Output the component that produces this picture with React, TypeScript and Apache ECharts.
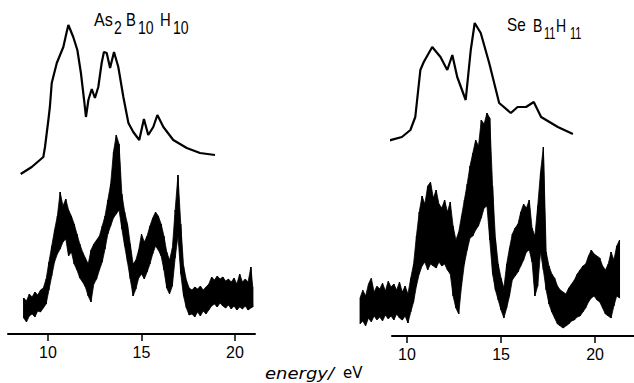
import React, { useEffect, useRef } from "react";
import * as echarts from "echarts";

// ---------- As2B10H10 (left panel) ----------
// upper (photoelectron) spectrum: energy (eV) and intensity (a.u.)
const asTopEnergy = [8.54, 9.13, 9.75, 9.84, 10.02, 10.1, 10.2, 10.47, 10.82, 11.0, 11.09, 11.35, 11.57, 11.76, 11.93, 12.03, 12.16, 12.34, 12.51, 12.69, 12.87, 12.99, 13.14, 13.32, 13.53, 13.76, 14.03, 14.3, 14.56, 14.88, 15.13, 15.36, 15.63, 15.85, 16.17, 16.7, 17.42, 18.13, 18.93];
const asTopIntensity = [160, 167, 177, 187, 214, 227, 251, 271, 287, 302, 309, 297, 284, 261, 234, 217, 234, 245, 236, 247, 271, 282, 281, 266, 282, 267, 237, 211, 202, 194, 215, 199, 207, 219, 207, 194, 186, 181, 179];

// lower (noisy) spectrum: energy, lower and upper edge of the noise band (a.u.)
const asLowEnergy = [8.70, 8.85, 9.00, 9.15, 9.30, 9.45, 9.60, 9.75, 9.90, 10.05, 10.20, 10.35, 10.50, 10.65, 10.80, 10.95, 11.10, 11.25, 11.40, 11.55, 11.70, 11.85, 12.00, 12.15, 12.30, 12.45, 12.60, 12.75, 12.90, 13.05, 13.20, 13.35, 13.50, 13.65, 13.80, 13.95, 14.10, 14.25, 14.40, 14.55, 14.70, 14.85, 15.00, 15.15, 15.30, 15.45, 15.60, 15.75, 15.90, 16.05, 16.20, 16.35, 16.50, 16.65, 16.80, 16.95, 17.10, 17.25, 17.40, 17.55, 17.70, 17.85, 18.00, 18.15, 18.30, 18.45, 18.60, 18.75, 18.90, 19.05, 19.20, 19.35, 19.50, 19.65, 19.80, 19.95, 20.10, 20.25, 20.40, 20.55, 20.70, 20.85, 20.95];
const asLowMin = [16, 12, 18, 20, 17, 23, 22, 26, 30, 44, 58, 72, 80, 85, 92, 95, 78, 82, 70, 64, 56, 52, 47, 38, 32, 50, 55, 64, 72, 85, 100, 108, 116, 120, 124, 105, 88, 72, 55, 38, 45, 56, 60, 55, 62, 70, 80, 88, 84, 78, 64, 46, 40, 48, 76, 98, 60, 38, 26, 19, 20, 17, 22, 18, 23, 20, 24, 28, 30, 27, 31, 28, 26, 29, 25, 28, 24, 27, 25, 28, 24, 26, 27];
const asLowMax = [36, 33, 40, 37, 42, 39, 44, 46, 55, 72, 88, 104, 118, 142, 128, 135, 124, 118, 110, 100, 90, 82, 76, 70, 84, 90, 94, 98, 108, 118, 134, 150, 182, 199, 190, 140, 122, 110, 90, 70, 74, 84, 100, 92, 98, 108, 116, 122, 118, 110, 98, 82, 74, 86, 124, 159, 110, 68, 54, 46, 44, 47, 45, 48, 44, 47, 50, 57, 54, 58, 55, 57, 53, 55, 52, 56, 50, 60, 52, 55, 52, 67, 47];

// ---------- SeB11H11 (right panel) ----------
const seTopEnergy = [7.42, 8.75, 9.73, 10.18, 10.44, 10.71, 10.89, 11.34, 11.78, 12.14, 12.41, 12.67, 13.12, 13.39, 13.6, 13.92, 14.37, 14.9, 15.52, 15.88, 16.33, 16.74, 17.13, 18.02, 18.82];
const seTopIntensity = [192, 194, 199, 206, 219, 266, 274, 289, 279, 266, 281, 259, 236, 286, 313, 303, 273, 233, 223, 229, 229, 234, 219, 209, 202];

const seLowEnergy = [7.50, 7.65, 7.80, 7.95, 8.10, 8.25, 8.40, 8.55, 8.70, 8.85, 9.00, 9.15, 9.30, 9.45, 9.60, 9.75, 9.90, 10.05, 10.20, 10.35, 10.50, 10.65, 10.80, 10.95, 11.10, 11.25, 11.40, 11.55, 11.70, 11.85, 12.00, 12.15, 12.30, 12.45, 12.60, 12.75, 12.90, 13.05, 13.20, 13.35, 13.50, 13.65, 13.80, 13.95, 14.10, 14.25, 14.40, 14.55, 14.70, 14.85, 15.00, 15.15, 15.30, 15.45, 15.60, 15.75, 15.90, 16.05, 16.20, 16.35, 16.50, 16.65, 16.80, 16.95, 17.10, 17.25, 17.40, 17.55, 17.70, 17.85, 18.00, 18.15, 18.30, 18.45, 18.60, 18.75, 18.90, 19.05, 19.20, 19.35, 19.50, 19.65, 19.80, 19.95, 20.10, 20.25, 20.40, 20.55, 20.70, 20.85, 21.00, 21.15, 21.30];
const seLowMin = [12, 15, 10, 18, 14, 20, 16, 19, 15, 21, 17, 20, 16, 22, 18, 16, 20, 13, 24, 34, 50, 62, 70, 74, 66, 72, 70, 68, 74, 70, 72, 66, 62, 40, 28, 22, 50, 72, 86, 98, 100, 106, 110, 118, 128, 130, 96, 62, 46, 36, 26, 18, 28, 40, 56, 60, 64, 70, 76, 84, 86, 74, 40, 50, 84, 66, 46, 32, 24, 18, 12, 10, 8, 10, 12, 15, 16, 19, 20, 24, 28, 34, 38, 40, 36, 34, 28, 22, 20, 18, 30, 40, 38];
const seLowMax = [38, 46, 40, 52, 58, 44, 50, 47, 53, 45, 55, 49, 52, 46, 54, 44, 50, 42, 58, 72, 100, 124, 140, 132, 150, 154, 138, 146, 132, 128, 136, 124, 134, 110, 96, 104, 120, 136, 152, 170, 183, 196, 190, 216, 212, 223, 218, 150, 98, 72, 58, 48, 72, 88, 102, 108, 112, 124, 132, 128, 136, 108, 100, 130, 164, 189, 84, 70, 62, 58, 50, 46, 44, 42, 48, 52, 56, 62, 66, 70, 72, 80, 86, 82, 80, 78, 70, 66, 72, 84, 76, 90, 96];

// ---------- axes ----------
const majorTicks = [10, 15, 20];
const leftMinorTicks = [8, 9, 11, 12, 13, 14, 16, 17, 18, 19, 21];
const rightMinorTicks = [11, 12, 13, 14, 16, 17, 18, 19, 21, 22];

const pairs = (xs: number[], ys: number[]) => xs.map((x, i) => [x, ys[i]]);
// noisy trace drawn as a zig-zag between the band edges at each reading
const zigzag = (xs: number[], lo: number[], hi: number[]) => {
  const out: number[][] = [];
  xs.forEach((x, i) => {
    out.push([x, lo[i]]);
    out.push([x, hi[i]]);
  });
  return out;
};

export default function App() {
  const ref = useRef<HTMLDivElement>(null);
  useEffect(() => {
    document.body.style.margin = "0";
    if (!ref.current) return;
    const chart = echarts.init(ref.current, undefined, { renderer: "svg" });
    const font = "Liberation Sans";
    const mkX = (grid: number, min: number, max: number, minor: number[]) => [
      {
        type: "value",
        gridIndex: grid,
        min,
        max,
        axisLine: { show: true, onZero: false, lineStyle: { color: "#000", width: 2 } },
        axisTick: { show: true, customValues: majorTicks, length: 7, lineStyle: { color: "#000", width: 1.5 } },
        axisLabel: { show: true, customValues: majorTicks, color: "#000", fontSize: 16, margin: 10, fontFamily: font },
        splitLine: { show: false },
      },
      {
        type: "value",
        gridIndex: grid,
        min,
        max,
        axisLine: { show: false, onZero: false },
        axisTick: { show: true, customValues: minor, length: 3, lineStyle: { color: "#000", width: 1.2 } },
        axisLabel: { show: false },
        splitLine: { show: false },
      },
    ];
    const line = (xIdx: number, yIdx: number, data: number[][], width: number) => ({
      type: "line",
      xAxisIndex: xIdx,
      yAxisIndex: yIdx,
      data,
      showSymbol: false,
      symbol: "none",
      lineStyle: { color: "#000", width },
      silent: true,
    });
    // filled noise band: polygon through the upper edge and back along the lower edge
    const band = (xIdx: number, yIdx: number, xs: number[], lo: number[], hi: number[]) => [
      {
        type: "custom",
        xAxisIndex: xIdx,
        yAxisIndex: yIdx,
        data: [[xs[0], lo[0]]],
        silent: true,
        renderItem: (_params: any, api: any) => {
          const pts: number[][] = [];
          xs.forEach((x, i) => pts.push(api.coord([x, hi[i]])));
          for (let i = xs.length - 1; i >= 0; i--) pts.push(api.coord([xs[i], lo[i]]));
          return {
            type: "polygon",
            shape: { points: pts },
            style: { fill: "#000", stroke: "#000", lineWidth: 0.8 },
          };
        },
      },
      line(xIdx, yIdx, zigzag(xs, lo, hi), 1),
    ];
    const txt = (x: number, y: number, s: string, size = 18, opts: any = {}) => ({
      type: "text",
      x,
      y,
      scaleX: opts.scaleX ?? 0.78,
      style: {
        text: s,
        fill: "#000",
        font: `${opts.italic ? "italic" : "normal"} ${size}px ${opts.family ?? font}`,
        verticalAlign: "middle",
        align: "left",
      },
    });
    chart.setOption({
      animation: false,
      backgroundColor: "#fff",
      grid: [
        { left: 8, top: 0, width: 247, height: 334 },
        { left: 392, top: 0, width: 242, height: 336 },
      ],
      xAxis: [...mkX(0, 7.861, 21.07, leftMinorTicks), ...mkX(1, 9.202, 22.07, rightMinorTicks)],
      yAxis: [
        { type: "value", gridIndex: 0, min: 0, max: 334, show: false },
        { type: "value", gridIndex: 1, min: 0, max: 336, show: false },
      ],
      series: [
        line(0, 0, pairs(asTopEnergy, asTopIntensity), 2.2),
        ...band(0, 0, asLowEnergy, asLowMin, asLowMax),
        line(2, 1, pairs(seTopEnergy, seTopIntensity), 2.2),
        ...band(2, 1, seLowEnergy, seLowMin, seLowMax),
      ],
      graphic: [
        txt(94, 20, "As", 19, { scaleX: 0.85 }),
        txt(114, 27, "2"),
        txt(126, 20, "B", 19),
        txt(138, 27, "10"),
        txt(160, 20, "H", 19),
        txt(173, 27, "10"),
        txt(507, 25, "Se", 18, { scaleX: 0.85 }),
        txt(533, 25, "B"),
        txt(544, 33, "11", 17, { scaleX: 0.65 }),
        txt(556, 25, "H"),
        txt(570, 33, "11", 17, { scaleX: 0.65 }),
        txt(265, 374, "energy/", 15, { italic: true, family: "DejaVu Sans", scaleX: 1.2 }),
        txt(343, 373, "eV", 15, { family: "DejaVu Sans", scaleX: 1.0 }),
      ],
    });
    return () => chart.dispose();
  }, []);
  return <div ref={ref} style={{ width: 634, height: 383 }} />;
}
